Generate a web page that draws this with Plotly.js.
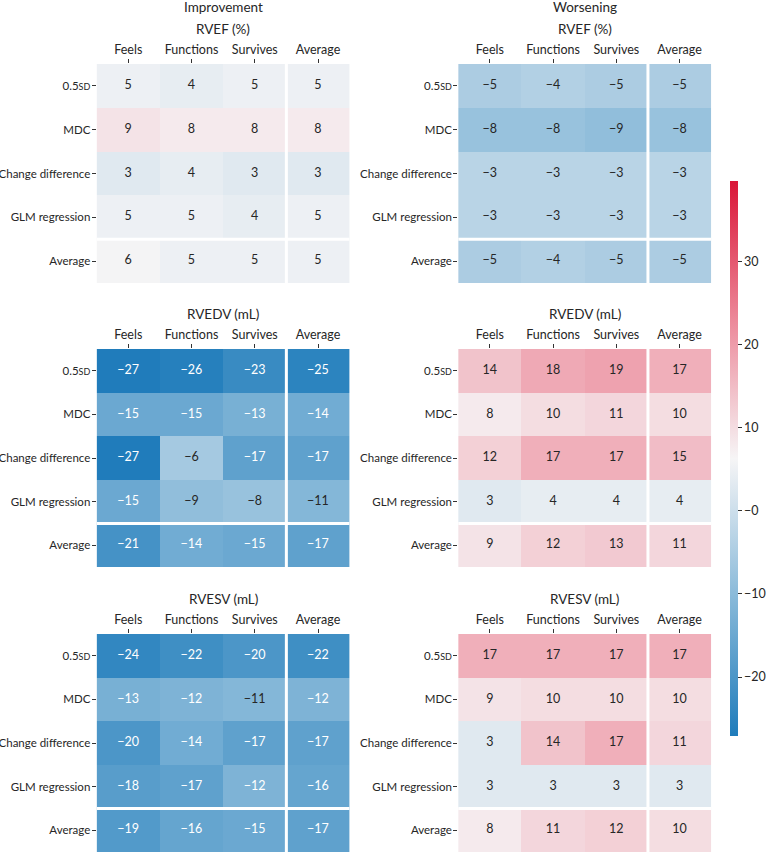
<!DOCTYPE html>
<html>
<head>
<meta charset="utf-8">
<script src="https://cdn.plot.ly/plotly-3.0.1.min.js"></script>
<style>html,body{margin:0;padding:0;background:#fff;}#chart{width:766px;height:853px;}</style>
</head>
<body>
<div id="chart"></div>
<script>
// ---- data ----
const cols = ['Feels', 'Functions', 'Survives', 'Average'];
const rows = ['0.5SD', 'MDC', 'Change difference', 'GLM regression', 'Average'];
const rowLabels = ['0.5<span style="font-size:9px">SD</span>', 'MDC', 'Change difference', 'GLM regression', 'Average'];
const groupTitles = ['Improvement', 'Worsening'];
const measureTitles = ['RVEF (%)', 'RVEDV (mL)', 'RVESV (mL)'];

const impRVEF = [[5, 4, 5, 5], [9, 8, 8, 8], [3, 4, 3, 3], [5, 5, 4, 5], [6, 5, 5, 5]];
const worRVEF = [[-5, -4, -5, -5], [-8, -8, -9, -8], [-3, -3, -3, -3], [-3, -3, -3, -3], [-5, -4, -5, -5]];
const impRVEDV = [[-27, -26, -23, -25], [-15, -15, -13, -14], [-27, -6, -17, -17], [-15, -9, -8, -11], [-21, -14, -15, -17]];
const worRVEDV = [[14, 18, 19, 17], [8, 10, 11, 10], [12, 17, 17, 15], [3, 4, 4, 4], [9, 12, 13, 11]];
const impRVESV = [[-24, -22, -20, -22], [-13, -12, -11, -12], [-20, -14, -17, -17], [-18, -17, -12, -16], [-19, -16, -15, -17]];
const worRVESV = [[17, 17, 17, 17], [9, 10, 10, 10], [3, 14, 17, 11], [3, 3, 3, 3], [8, 11, 12, 10]];

const cbTickVals = [-20, -10, 0, 10, 20, 30];
const cbTickText = ['\u221220', '\u221210', '\u22120', '10', '20', '30'];

const panels = [impRVEF, worRVEF, impRVEDV, worRVEDV, impRVESV, worRVESV];

// ---- layout geometry (pixels) ----
const W = 766, H = 853;
const colX = [[97, 351], [460, 714]];
const rowY = [[64, 283], [349, 567], [634, 852]];
const FONT = '"Source Sans Pro", Lato, "Open Sans", sans-serif';
const FS = 12.5;
const TXT = '#262626';

function fmt(v) { return v < 0 ? '\u2212' + Math.abs(v) : String(v); }

const data = [];
const layout = {
  width: W, height: H,
  margin: {l: 0, r: 0, t: 0, b: 0},
  paper_bgcolor: '#fff', plot_bgcolor: '#fff',
  font: {family: FONT, size: FS, color: TXT},
  showlegend: false,
  annotations: [], shapes: [],
  coloraxis: {
    cmin: -27.1, cmax: 39.7,
    colorscale: [
      [0, 'rgb(31,124,187)'],
      [0.25, 'rgb(136,185,217)'],
      [0.5, 'rgb(246,245,246)'],
      [0.75, 'rgb(236,136,153)'],
      [1, 'rgb(218,22,56)']
    ],
    colorbar: {
      thickness: 8, len: 555 / H, lenmode: 'fraction',
      x: 733 / W, xanchor: 'left', xpad: 0, ypad: 0,
      y: 1 - 458.5 / H, yanchor: 'middle',
      outlinewidth: 0, ticks: 'outside', ticklen: 4, tickcolor: '#333', tickwidth: 1,
      tickvals: cbTickVals, ticktext: cbTickText,
      tickfont: {family: FONT, size: FS, color: TXT}
    }
  }
};

const sepX = cols.indexOf('Average') - 0.5;
const sepY = rows.lastIndexOf('Average') - 0.5;

panels.forEach((z, i) => {
  const r = Math.floor(i / 2), c = i % 2;
  const n = i + 1;
  const xa = 'x' + n, ya = 'y' + n;
  const xk = 'xaxis' + n, yk = 'yaxis' + n;
  data.push({
    type: 'heatmap', x: cols, y: rows, z: z, coloraxis: 'coloraxis',
    xaxis: xa, yaxis: ya, hoverinfo: 'skip'
  });
  const tx = [], ty = [], tt = [], tc = [];
  z.forEach((row, ri) => row.forEach((v, ci) => {
    tx.push(cols[ci]); ty.push(rows[ri]); tt.push(fmt(v));
    tc.push(v <= -12 ? '#ffffff' : TXT);
  }));
  data.push({
    type: 'scatter', mode: 'text', x: tx, y: ty, text: tt,
    textfont: {family: FONT, size: FS, color: tc},
    xaxis: xa, yaxis: ya, hoverinfo: 'skip', cliponaxis: false
  });
  layout[xk] = {
    domain: [colX[c][0] / W, colX[c][1] / W], anchor: ya, side: 'top',
    type: 'category', categoryorder: 'array', categoryarray: cols,
    range: [-0.5, cols.length - 0.5],
    showgrid: false, zeroline: false, showline: false,
    ticks: 'outside', ticklen: 4, tickcolor: '#333', tickwidth: 1,
    tickfont: {family: FONT, size: FS, color: TXT}, fixedrange: true
  };
  layout[yk] = {
    domain: [1 - rowY[r][1] / H, 1 - rowY[r][0] / H], anchor: xa,
    type: 'category', categoryorder: 'array', categoryarray: rows,
    range: [rows.length - 0.5, -0.5],
    tickvals: rows.map((_, k) => k), ticktext: rowLabels,
    showgrid: false, zeroline: false, showline: false,
    ticks: 'outside', ticklen: 4, tickcolor: '#333', tickwidth: 1,
    ticklabelstandoff: -1,
    tickfont: {family: FONT, size: 11.5, color: TXT}, fixedrange: true
  };
  // separators
  layout.shapes.push({type: 'line', xref: xa, yref: ya, x0: sepX, x1: sepX, y0: -0.5, y1: rows.length - 0.5,
    line: {color: '#ffffff', width: 3}, layer: 'above'});
  layout.shapes.push({type: 'line', xref: xa, yref: ya, x0: -0.5, x1: cols.length - 0.5, y0: sepY, y1: sepY,
    line: {color: '#ffffff', width: 3}, layer: 'above'});
  // measure title
  const cx = (colX[c][0] + colX[c][1]) / 2 / W;
  layout.annotations.push({
    text: measureTitles[r], xref: 'paper', yref: 'paper', x: cx, y: 1 - (rowY[r][0] - 35) / H,
    xanchor: 'center', yanchor: 'middle', showarrow: false, font: {family: FONT, size: 13.5, color: TXT}
  });
  if (r === 0) {
    layout.annotations.push({
      text: groupTitles[c], xref: 'paper', yref: 'paper', x: cx, y: 1 - 7 / H,
      xanchor: 'center', yanchor: 'middle', showarrow: false, font: {family: FONT, size: 13.5, color: TXT}
    });
  }
});

Plotly.newPlot('chart', data, layout, {displayModeBar: false, staticPlot: true});
</script>
</body>
</html>
